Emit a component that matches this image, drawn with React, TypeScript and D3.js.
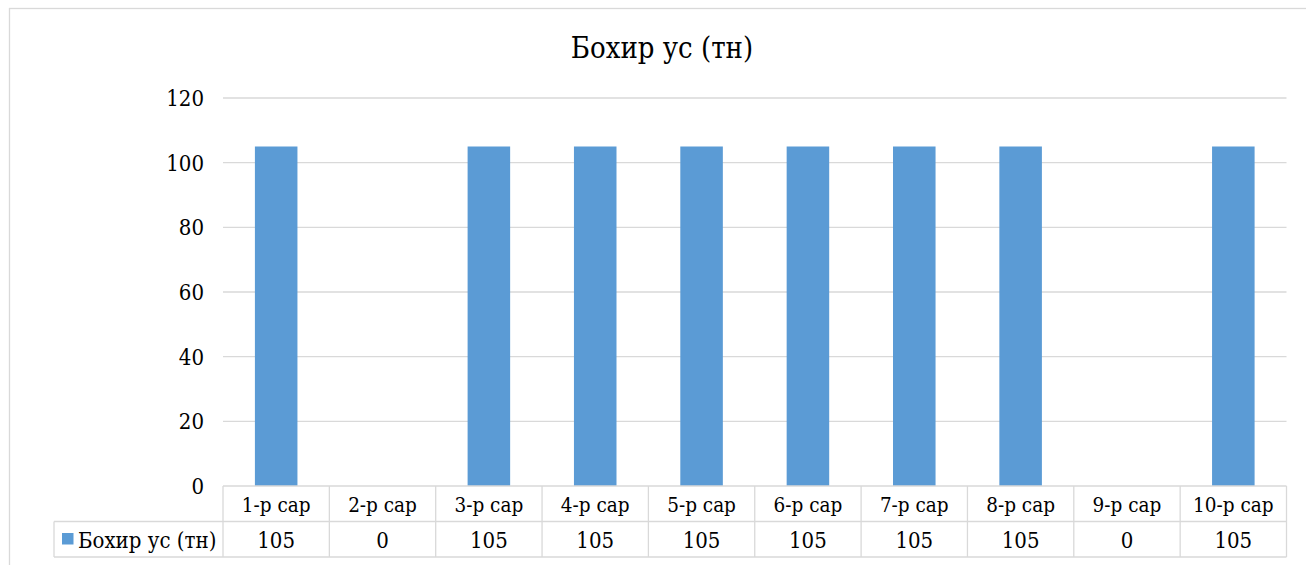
import React from "react";
import * as d3 from "d3";

const title = "Бохир ус (тн)";
const seriesName = "Бохир ус (тн)";
const categories = ["1-р сар", "2-р сар", "3-р сар", "4-р сар", "5-р сар", "6-р сар", "7-р сар", "8-р сар", "9-р сар", "10-р сар"];
const values = [105, 0, 105, 105, 105, 105, 105, 105, 0, 105];
const yTicks = [0, 20, 40, 60, 80, 100, 120];

const W = 1306;
const H = 565;
const FONT = "DejaVu Serif Condensed, DejaVu Serif";
const GRID = "#d9d9d9";
const BAR = "#5b9bd5";

export default function App() {
  const plotLeft = 223;
  const plotRight = 1286.5;
  const yTop = 98;
  const yBottom = 486;
  const rowMid = 521.5;
  const rowBottom = 557;
  const legendLeft = 54;

  const x = d3.scaleBand<string>().domain(categories).range([plotLeft, plotRight]).padding(0);
  const y = d3.scaleLinear().domain([0, 120]).range([yBottom, yTop]);
  const bw = x.bandwidth();
  const barW = bw / 2.5;

  return (
    <div style={{ position: "absolute", left: 0, top: 0 }}>
      <svg width={W} height={H} style={{ display: "block", background: "#fff" }}>
        <rect x={9.5} y={8.5} width={W + 50} height={H + 50} fill="#fff" stroke={GRID} strokeWidth={1.3} />
        <text x={662} y={58} textAnchor="middle" fontFamily={FONT} fontSize={29} fill="#000">{title}</text>

        {yTicks.filter((t) => t > 0).map((t) => (
          <line key={"g" + t} x1={plotLeft} x2={plotRight} y1={y(t)} y2={y(t)} stroke={GRID} strokeWidth={1.3} />
        ))}
        {yTicks.map((t) => (
          <text key={"t" + t} x={204} y={y(t) + 8} textAnchor="end" fontFamily={FONT} fontSize={22} fill="#000">{t}</text>
        ))}

        {categories.map((c, i) => (
          values[i] > 0 ? (
            <rect key={"b" + c} x={(x(c) as number) + (bw - barW) / 2} y={y(values[i])} width={barW} height={y(0) - y(values[i])} fill={BAR} />
          ) : null
        ))}

        <g stroke={GRID} strokeWidth={1.3} fill="none">
          <line x1={plotLeft} x2={plotRight} y1={yBottom} y2={yBottom} />
          <line x1={legendLeft} x2={plotRight} y1={rowMid} y2={rowMid} />
          <line x1={legendLeft} x2={plotRight} y1={rowBottom} y2={rowBottom} />
          <line x1={legendLeft} x2={legendLeft} y1={rowMid} y2={rowBottom} />
          {categories.map((c) => (
            <line key={"v" + c} x1={x(c) as number} x2={x(c) as number} y1={yBottom} y2={rowBottom} />
          ))}
          <line x1={plotRight} x2={plotRight} y1={yBottom} y2={rowBottom} />
        </g>
        {categories.map((c, i) => (
          <g key={"c" + c}>
            <text x={(x(c) as number) + bw / 2} y={yBottom + 26} textAnchor="middle" fontFamily={FONT} fontSize={20.5} fill="#000">{c}</text>
            <text x={(x(c) as number) + bw / 2} y={rowMid + 26} textAnchor="middle" fontFamily={FONT} fontSize={22} fill="#000">{values[i]}</text>
          </g>
        ))}
        <rect x={62} y={533} width={11.5} height={11.5} fill={BAR} />
        <text x={78} y={rowMid + 26} fontFamily={FONT} fontSize={22} fill="#000">{seriesName}</text>
      </svg>
    </div>
  );
}
